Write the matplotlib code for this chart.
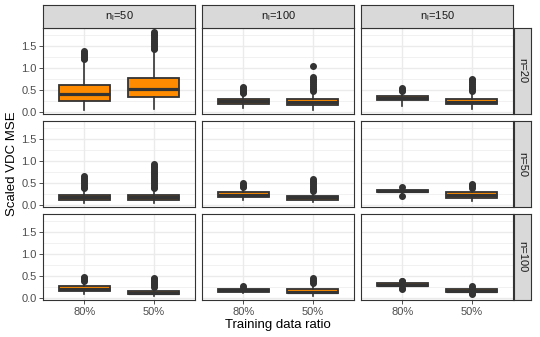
import matplotlib
matplotlib.use("Agg")
import matplotlib.pyplot as plt
import numpy as np

plt.rcParams['font.family'] = ['Liberation Sans', 'DejaVu Sans']

# ---------------- data ----------------
col_labels = [r'n$_\mathregular{l}$=50', r'n$_\mathregular{l}$=100', r'n$_\mathregular{l}$=150']
row_labels = ['n=20', 'n=50', 'n=100']
ratios = ['80%', '50%']

# indexed [row][col][ratio]
whislo = [
    [[0.06, 0.08], [0.10, 0.05], [0.15, 0.08]],
    [[0.06, 0.06], [0.13, 0.07], [0.25, 0.10]],
    [[0.09, 0.04], [0.12, 0.05], [0.22, 0.13]],
]
q1 = [
    [[0.25, 0.34], [0.19, 0.17], [0.27, 0.18]],
    [[0.13, 0.13], [0.19, 0.13], [0.29, 0.17]],
    [[0.16, 0.09], [0.15, 0.12], [0.27, 0.14]],
]
med = [
    [[0.42, 0.53], [0.25, 0.23], [0.32, 0.23]],
    [[0.18, 0.19], [0.24, 0.18], [0.32, 0.23]],
    [[0.22, 0.12], [0.18, 0.15], [0.30, 0.17]],
]
q3 = [
    [[0.62, 0.77], [0.30, 0.30], [0.36, 0.30]],
    [[0.23, 0.23], [0.29, 0.22], [0.35, 0.29]],
    [[0.28, 0.16], [0.22, 0.22], [0.34, 0.20]],
]
whishi = [
    [[1.15, 1.40], [0.40, 0.45], [0.45, 0.45]],
    [[0.36, 0.36], [0.38, 0.30], [0.38, 0.38]],
    [[0.38, 0.22], [0.22, 0.33], [0.36, 0.22]],
]
fliers = [
    [[[1.20, 1.23, 1.26, 1.29, 1.32, 1.35, 1.38],
      [1.43, 1.46, 1.50, 1.54, 1.58, 1.62, 1.66, 1.70, 1.74, 1.78, 1.82]],
     [[0.43, 0.46, 0.49, 0.52, 0.55, 0.58],
      [0.48, 0.52, 0.56, 0.60, 0.64, 0.68, 0.72, 0.76, 0.79, 1.04]],
     [[0.48, 0.51, 0.54],
      [0.48, 0.52, 0.56, 0.60, 0.64, 0.68, 0.72, 0.76]]],
    [[[0.38, 0.42, 0.46, 0.50, 0.54, 0.58, 0.62, 0.67],
      [0.38, 0.42, 0.46, 0.50, 0.54, 0.58, 0.62, 0.66, 0.70, 0.74, 0.78, 0.82, 0.86, 0.90, 0.93]],
     [[0.41, 0.44, 0.47, 0.51],
      [0.32, 0.36, 0.40, 0.44, 0.48, 0.52, 0.56, 0.60]],
     [[0.21, 0.42],
      [0.40, 0.43, 0.46, 0.49]]],
    [[[0.40, 0.43, 0.46, 0.49],
      [0.26, 0.29, 0.32, 0.35, 0.38, 0.41, 0.44, 0.46]],
     [[0.24, 0.27],
      [0.35, 0.38, 0.41, 0.45]],
     [[0.20, 0.23, 0.38, 0.40],
      [0.09, 0.11, 0.24, 0.27]]],
]

# ---------------- layout ----------------
W, H = 540, 337
fig = plt.figure(figsize=(W / 100, H / 100), dpi=100)

col_left = [43, 202, 361]
panel_w = 152
row_top = [28, 121, 214]
panel_h = 86
strip_top_y = 5
strip_right_x = 514
strip_right_w = 17

def px_axes(x, y, w, h):
    return fig.add_axes([x / W, 1 - (y + h) / H, w / W, h / H])

edge = '#333333'
fill = '#FF8C00'
grid_c = '#EBEBEB'

for r in range(3):
    for c in range(3):
        ax = px_axes(col_left[c], row_top[r], panel_w, panel_h)
        ax.set_facecolor('white')
        stats = []
        for k in range(2):
            stats.append(dict(med=med[r][c][k], q1=q1[r][c][k], q3=q3[r][c][k],
                              whislo=whislo[r][c][k], whishi=whishi[r][c][k],
                              fliers=fliers[r][c][k], label=ratios[k]))
        ax.bxp(stats, positions=[1, 2], widths=0.75, patch_artist=True,
               boxprops=dict(facecolor=fill, edgecolor=edge, linewidth=1.3),
               medianprops=dict(color=edge, linewidth=2.3),
               whiskerprops=dict(color=edge, linewidth=1.2),
               capprops=dict(linewidth=0),
               flierprops=dict(marker='o', markerfacecolor=edge, markeredgecolor=edge,
                               markersize=4.0, linestyle='none'),
               showcaps=False, zorder=3)
        ax.set_xlim(0.4, 2.6)
        ax.set_ylim(-0.04, 1.91)
        ax.set_yticks([0.0, 0.5, 1.0, 1.5])
        ax.set_yticks([0.25, 0.75, 1.25, 1.75], minor=True)
        ax.set_xticks([1, 2])
        ax.grid(True, which='major', color=grid_c, linewidth=1.0, zorder=0)
        ax.grid(True, which='minor', axis='y', color=grid_c, linewidth=0.5, zorder=0)
        ax.set_axisbelow(True)
        for s in ax.spines.values():
            s.set_color(edge)
            s.set_linewidth(0.8)
        ax.tick_params(which='minor', length=0)
        ax.tick_params(which='major', length=2.7, width=0.6, color=edge,
                       labelsize=8, labelcolor='#4D4D4D', pad=2)
        if c == 0:
            ax.set_yticklabels(['0.0', '0.5', '1.0', '1.5'])
        else:
            ax.tick_params(axis='y', length=0, labelleft=False)
        if r == 2:
            ax.set_xticklabels(ratios)
        else:
            ax.tick_params(axis='x', length=0, labelbottom=False)

# top strips
for c in range(3):
    sa = px_axes(col_left[c], strip_top_y, panel_w, row_top[0] - strip_top_y)
    sa.set_facecolor('#D9D9D9')
    sa.set_xticks([]); sa.set_yticks([])
    for s in sa.spines.values():
        s.set_color(edge); s.set_linewidth(0.8)
    sa.text(0.5, 0.5, col_labels[c], ha='center', va='center', fontsize=8,
            color='#1A1A1A', transform=sa.transAxes)

# right strips
for r in range(3):
    sa = px_axes(strip_right_x, row_top[r], strip_right_w, panel_h)
    sa.set_facecolor('#D9D9D9')
    sa.set_xticks([]); sa.set_yticks([])
    for s in sa.spines.values():
        s.set_color(edge); s.set_linewidth(0.8)
    sa.text(0.5, 0.5, row_labels[r], ha='center', va='center', fontsize=8,
            color='#1A1A1A', rotation=-90, transform=sa.transAxes)

fig.text(12 / W, 1 - 164 / H, 'Scaled VDC MSE', rotation=90, ha='center', va='center',
         fontsize=9.5, color='black')
fig.text(278 / W, 1 - 325 / H, 'Training data ratio', ha='center', va='center',
         fontsize=9.5, color='black')

fig.savefig('out.png', dpi=100)
